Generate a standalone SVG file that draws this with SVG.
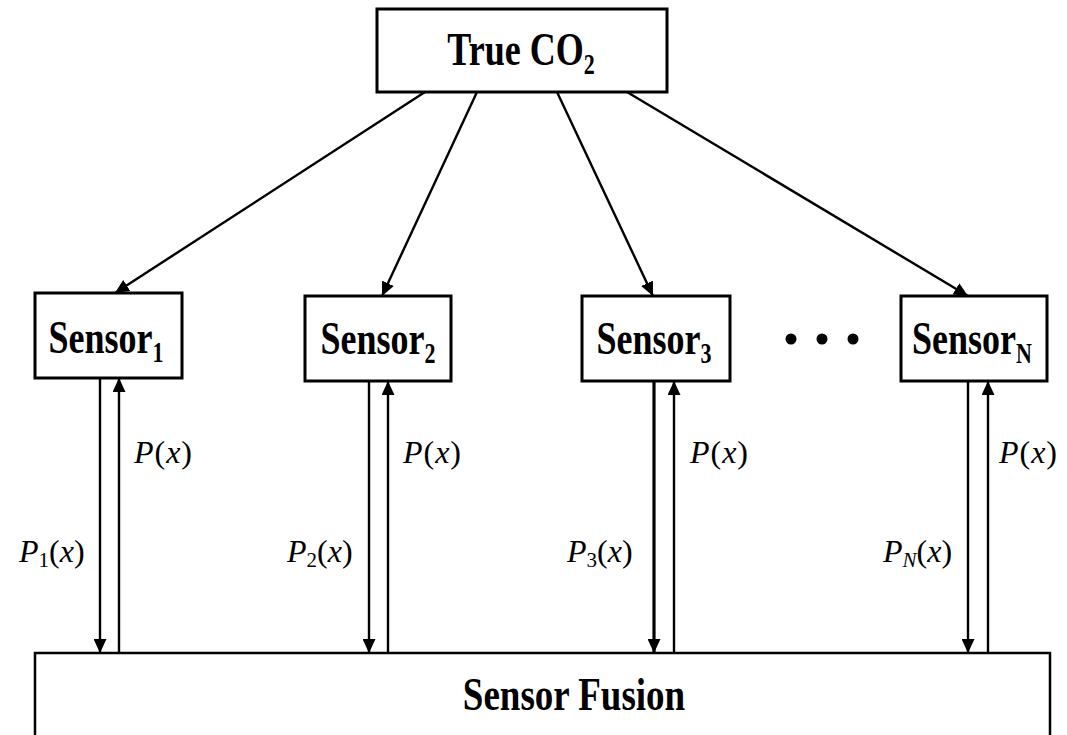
<svg xmlns="http://www.w3.org/2000/svg" width="1067" height="735" viewBox="0 0 1067 735">
<defs>
<marker id="ah" markerUnits="userSpaceOnUse" markerWidth="15" markerHeight="13" refX="14" refY="6.5" orient="auto">
<path d="M0,0 L14,6.5 L0,13 z" fill="#000"/>
</marker>
<style>
.box{fill:#fff;stroke:#000;stroke-width:3}
.fbox{fill:#fff;stroke:#000;stroke-width:2.5}
.ln{stroke:#000;stroke-width:2.4;fill:none;marker-end:url(#ah)}
.t{font-family:"Liberation Serif",serif;font-weight:bold;font-size:36px;fill:#000}
.sub{font-size:22px}
.m{font-family:"Liberation Serif",serif;font-size:32px;fill:#000}
.i{font-style:italic}
.ms{font-size:21px}
</style>
</defs>
<rect width="1067" height="735" fill="#fff"/>

<g id="fusion">
<rect class="fbox" x="35" y="653" width="1015" height="100"/>
<g transform="translate(574,710) scale(1,1.25)"><text class="t" text-anchor="middle" style="font-size:37px">Sensor Fusion</text></g>
</g>

<g id="true-co2">
<rect class="box" x="377" y="9" width="290" height="83"/>
<g transform="translate(521,65) scale(1,1.3)"><text class="t" text-anchor="middle">True CO<tspan class="sub" dy="7">2</tspan></text></g>
</g>

<g id="sensor1">
<rect class="box" x="35" y="293" width="147" height="85"/>
<g transform="translate(106,353) scale(1,1.3)"><text class="t" text-anchor="middle">Sensor<tspan class="sub" dy="7">1</tspan></text></g>
</g>
<g id="sensor2">
<rect class="box" x="305" y="296" width="146" height="85"/>
<g transform="translate(378,354) scale(1,1.3)"><text class="t" text-anchor="middle">Sensor<tspan class="sub" dy="7">2</tspan></text></g>
</g>
<g id="sensor3">
<rect class="box" x="582" y="296" width="148" height="85"/>
<g transform="translate(654,354) scale(1,1.3)"><text class="t" text-anchor="middle">Sensor<tspan class="sub" dy="7">3</tspan></text></g>
</g>
<g id="sensorN">
<rect class="box" x="901" y="296" width="146" height="85"/>
<g transform="translate(972,354) scale(1,1.3)"><text class="t" text-anchor="middle">Sensor<tspan class="sub" dy="7">N</tspan></text></g>
</g>

<g id="dots" fill="#000">
<circle cx="791" cy="339" r="5.5"/>
<circle cx="822" cy="339" r="5.5"/>
<circle cx="853" cy="339" r="5.5"/>
</g>

<g id="connectors">
<line class="ln" x1="425" y1="92" x2="115" y2="293"/>
<line class="ln" x1="477" y1="92" x2="382" y2="296"/>
<line class="ln" x1="557" y1="92" x2="653" y2="296"/>
<line class="ln" x1="627" y1="92" x2="968" y2="296"/>

<line class="ln" x1="100" y1="378" x2="100" y2="653"/>
<line class="ln" x1="119" y1="653" x2="119" y2="378"/>
<line class="ln" x1="369" y1="381" x2="369" y2="653"/>
<line class="ln" x1="388" y1="653" x2="388" y2="381"/>
<line class="ln" x1="654" y1="381" x2="654" y2="653" style="stroke-width:3.2"/>
<line class="ln" x1="674" y1="653" x2="674" y2="381"/>
<line class="ln" x1="968" y1="381" x2="968" y2="653"/>
<line class="ln" x1="988" y1="653" x2="988" y2="381"/>
</g>

<g id="labels">
<text class="m" x="134" y="463" textLength="58" lengthAdjust="spacing"><tspan class="i">P</tspan>(<tspan class="i">x</tspan>)</text>
<text class="m" x="403" y="463" textLength="58" lengthAdjust="spacing"><tspan class="i">P</tspan>(<tspan class="i">x</tspan>)</text>
<text class="m" x="690" y="463" textLength="58" lengthAdjust="spacing"><tspan class="i">P</tspan>(<tspan class="i">x</tspan>)</text>
<text class="m" x="999" y="463" textLength="58" lengthAdjust="spacing"><tspan class="i">P</tspan>(<tspan class="i">x</tspan>)</text>

<text class="m" x="19" y="562"><tspan class="i">P</tspan><tspan class="ms" dy="5">1</tspan><tspan dy="-5">(</tspan><tspan class="i">x</tspan>)</text>
<text class="m" x="287" y="562"><tspan class="i">P</tspan><tspan class="ms" dy="5">2</tspan><tspan dy="-5">(</tspan><tspan class="i">x</tspan>)</text>
<text class="m" x="567" y="562"><tspan class="i">P</tspan><tspan class="ms" dy="5">3</tspan><tspan dy="-5">(</tspan><tspan class="i">x</tspan>)</text>
<text class="m" x="883" y="562"><tspan class="i">P</tspan><tspan class="ms i" dy="5">N</tspan><tspan dy="-5">(</tspan><tspan class="i">x</tspan>)</text>
</g>
</svg>
